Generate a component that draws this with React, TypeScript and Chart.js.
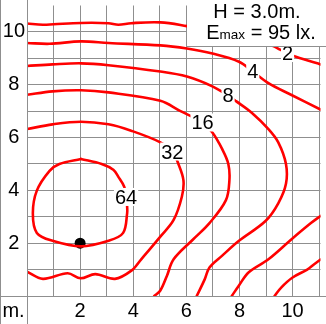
import React, { useEffect, useRef } from 'react';
import { Chart, registerables } from 'chart.js';

Chart.register(...registerables);

const FONT = '"Liberation Sans", Arial, Helvetica, sans-serif';
const RED = '#ff0000';
const GRID = '#8f8f8f';

// axis
const xTickLabels = [2, 4, 6, 8, 10];
const yTickLabels = [2, 4, 6, 8, 10];
const unitLabel = 'm.';
const headerLine1 = 'H = 3.0m.';
const headerE = 'E';
const headerSub = 'max';
const headerRest = ' = 95 lx.';

// luminaire position
const luminaire = [[2, 2]];

// isolux lines (x, y in metres)
const iso2Upper = [[0, 10.32], [0.6, 10.27], [1.0, 10.29], [2.03, 10.34], [3.07, 10.33], [3.44, 10.27], [3.92, 10.33], [5.02, 10.36], [6.02, 10.22], [7.68, 9.93], [9.24, 9.48], [9.53, 9.33], [10.01, 9.1], [10.93, 8.81], [11.05, 8.77]];
const iso2Lower = [[9.32, 0], [9.57, 0.32], [10.0, 0.7], [10.55, 1.0], [10.8, 1.19], [11.05, 1.38]];
const iso4Upper = [[0, 9.58], [0.85, 9.55], [2.03, 9.64], [3.07, 9.58], [5.02, 9.49], [6.02, 9.37], [6.98, 9.18], [7.98, 8.87], [8.5, 8.5], [9.09, 8.06], [9.94, 7.62], [11.05, 7.06]];
const iso4Lower = [[11.05, 3.03], [10.69, 2.76], [9.95, 2.14], [9.09, 1.39], [8.35, 0.9], [7.98, 0.4], [7.71, 0]];
const iso8 = [[0, 8.71], [0.96, 8.77], [2.03, 8.81], [3.07, 8.74], [5.02, 8.5], [6.02, 8.31], [6.98, 7.94], [7.54, 7.61], [7.87, 7.38], [8.46, 6.94], [9.09, 6.32], [9.46, 5.82], [9.75, 5.0], [9.75, 4.25], [9.46, 3.51], [8.98, 2.84], [7.98, 2.09], [7.35, 1.53], [6.87, 1.08], [6.69, 0.63], [6.39, 0]];
const iso16 = [[0, 7.62], [0.96, 7.75], [2.03, 7.79], [3.07, 7.71], [5.02, 7.39], [5.76, 7.01], [6.61, 6.57], [6.98, 6.19], [7.35, 5.56], [7.58, 5.0], [7.62, 4.38], [7.49, 3.63], [6.87, 2.76], [6.25, 2.14], [5.52, 1.39], [5.27, 0.77], [5.02, 0.21], [4.79, 0]];
const iso32 = [[0, 6.32], [0.96, 6.5], [2.03, 6.6], [3.07, 6.5], [3.92, 6.26], [5.02, 5.82], [5.47, 5.47], [5.7, 5.0], [5.89, 4.38], [5.83, 3.76], [5.52, 2.88], [5.02, 2.25], [4.3, 1.39], [3.93, 0.96], [3.31, 0.65], [2.57, 0.83], [2.02, 0.67], [1.53, 0.86], [0.6, 0.65], [0, 0.92]];
const iso64 = [[2.03, 5.19], [2.81, 5.0], [3.25, 4.78], [3.44, 4.51], [3.66, 4.14], [3.74, 3.77], [3.77, 3.39], [3.77, 3.13], [3.62, 2.39], [3.07, 2.09], [2.03, 1.88], [0.96, 2.09], [0.37, 2.39], [0.22, 3.13], [0.37, 3.99], [0.85, 4.74], [1.22, 5.0], [2.03, 5.19]];

// contour label anchors (value, x, y in metres)
const labelTexts = ['2', '4', '8', '16', '32', '64'];
const labelX = [9.81, 8.5, 7.57, 6.61, 5.47, 3.73];
const labelY = [9.2, 8.51, 7.61, 6.57, 5.47, 3.75];

const toXY = (pts: number[][]) => pts.map(([x, y]) => ({ x, y }));

export default function App() {
  const ref = useRef<HTMLCanvasElement>(null);

  useEffect(() => {
    document.body.style.margin = '0';
    const canvas = ref.current;
    if (!canvas) return;

    const line = (pts: number[][]) => ({
      data: toXY(pts),
      showLine: true,
      borderColor: RED,
      backgroundColor: RED,
      borderWidth: 2.6,
      pointRadius: 0,
      pointHoverRadius: 0,
      tension: 0.35,
      fill: false,
      borderCapStyle: 'round',
      borderJoinStyle: 'round',
    });

    const overlay = {
      id: 'overlay',
      afterDatasetsDraw(chart: any) {
        const { ctx, scales } = chart;
        const xs = scales.x;
        const ys = scales.y;
        ctx.save();
        // contour labels
        ctx.font = `20px ${FONT}`;
        ctx.textAlign = 'center';
        ctx.textBaseline = 'alphabetic';
        labelTexts.forEach((t, i) => {
          const px = xs.getPixelForValue(labelX[i]);
          const py = ys.getPixelForValue(labelY[i]);
          const w = ctx.measureText(t).width;
          ctx.fillStyle = '#ffffff';
          ctx.fillRect(px - w / 2 - 1, py - 9, w + 2, 18);
          ctx.fillStyle = '#000000';
          ctx.fillText(t, px, py + 7);
        });
        // header box
        const bx = Math.round(xs.getPixelForValue(6)) + 1;
        const bb = Math.round(ys.getPixelForValue(9.45)) + 0.5;
        ctx.fillStyle = '#ffffff';
        ctx.fillRect(bx, 0, chart.width - bx, bb);
        ctx.strokeStyle = GRID;
        ctx.lineWidth = 1;
        ctx.beginPath();
        ctx.moveTo(bx - 1, bb);
        ctx.lineTo(chart.width, bb);
        ctx.stroke();
        ctx.fillStyle = '#000000';
        ctx.textAlign = 'center';
        ctx.font = `20px ${FONT}`;
        ctx.fillText(headerLine1, 257, 18);
        ctx.textAlign = 'left';
        ctx.font = `20px ${FONT}`;
        const wE = ctx.measureText(headerE).width;
        const wR = ctx.measureText(headerRest).width;
        ctx.font = `13.5px ${FONT}`;
        const wS = ctx.measureText(headerSub).width;
        let sx = 261 - (wE + wS + wR) / 2;
        ctx.font = `20px ${FONT}`;
        ctx.fillText(headerE, sx, 39);
        sx += wE;
        ctx.font = `13.5px ${FONT}`;
        ctx.fillText(headerSub, sx, 39);
        sx += wS;
        ctx.font = `20px ${FONT}`;
        ctx.fillText(headerRest, sx, 39);
        ctx.restore();
      },
      afterDraw(chart: any) {
        const { ctx, chartArea: a } = chart;
        ctx.save();
        ctx.strokeStyle = GRID;
        ctx.lineWidth = 1;
        const L = Math.round(a.left) + 0.5;
        const B = Math.round(a.bottom) + 0.5;
        ctx.beginPath();
        ctx.moveTo(0.5, 0);
        ctx.lineTo(0.5, chart.height);
        ctx.moveTo(L, 0);
        ctx.lineTo(L, chart.height);
        ctx.moveTo(0, B);
        ctx.lineTo(chart.width, B);
        ctx.stroke();
        ctx.fillStyle = '#000000';
        ctx.font = `20px ${FONT}`;
        ctx.textAlign = 'center';
        ctx.textBaseline = 'alphabetic';
        ctx.fillText(unitLabel, 13.5, 317);
        ctx.restore();
      },
    };

    const chart = new Chart(canvas, {
      type: 'scatter',
      data: {
        datasets: [
          line(iso2Upper),
          line(iso2Lower),
          line(iso4Upper),
          line(iso4Lower),
          line(iso8),
          line(iso16),
          line(iso32),
          line(iso64),
          {
            data: toXY(luminaire),
            pointRadius: 5.5,
            pointHoverRadius: 5.5,
            backgroundColor: '#000000',
            borderColor: '#000000',
            borderWidth: 0,
            showLine: false,
          } as any,
        ] as any,
      },
      plugins: [overlay],
      options: {
        animation: false,
        responsive: false,
        maintainAspectRatio: false,
        events: [],
        layout: { padding: { top: 1, right: 0, bottom: 0, left: 0 } },
        plugins: {
          legend: { display: false },
          tooltip: { enabled: false },
          title: { display: false },
        },
        scales: {
          x: {
            type: 'linear',
            min: 0,
            max: 11.05,
            afterFit: (s: any) => { s.height = 28; s.paddingLeft = 0; s.paddingRight = 0; },
            grid: { color: GRID, lineWidth: 1, drawTicks: false },
            border: { display: true, color: GRID, width: 1 },
            ticks: {
              stepSize: 1,
              includeBounds: false,
              autoSkip: false,
              maxRotation: 0,
              padding: 3,
              color: '#000000',
              font: { family: FONT, size: 20 },
              callback: (v: any) => (xTickLabels.includes(Number(v)) ? String(v) : ''),
            },
          },
          y: {
            type: 'linear',
            min: 0,
            max: 11,
            afterFit: (s: any) => { s.width = 27; s.paddingTop = 0; s.paddingBottom = 0; },
            grid: {
              color: (c: any) => (c.tick && c.tick.value === 11 ? 'rgba(0,0,0,0)' : GRID),
              lineWidth: 1,
              drawTicks: false,
            },
            border: { display: true, color: GRID, width: 1 },
            ticks: {
              stepSize: 1,
              autoSkip: false,
              crossAlign: 'center',
              padding: 2,
              color: '#000000',
              font: { family: FONT, size: 20 },
              callback: (v: any) => (yTickLabels.includes(Number(v)) ? String(v) : ''),
            },
          },
        },
      } as any,
    });
    return () => chart.destroy();
  }, []);

  return (
    <div style={{ position: 'absolute', left: 0, top: 0, width: 326, height: 324 }}>
      <canvas ref={ref} width={326} height={324} style={{ display: 'block', width: 326, height: 324 }} />
    </div>
  );
}
